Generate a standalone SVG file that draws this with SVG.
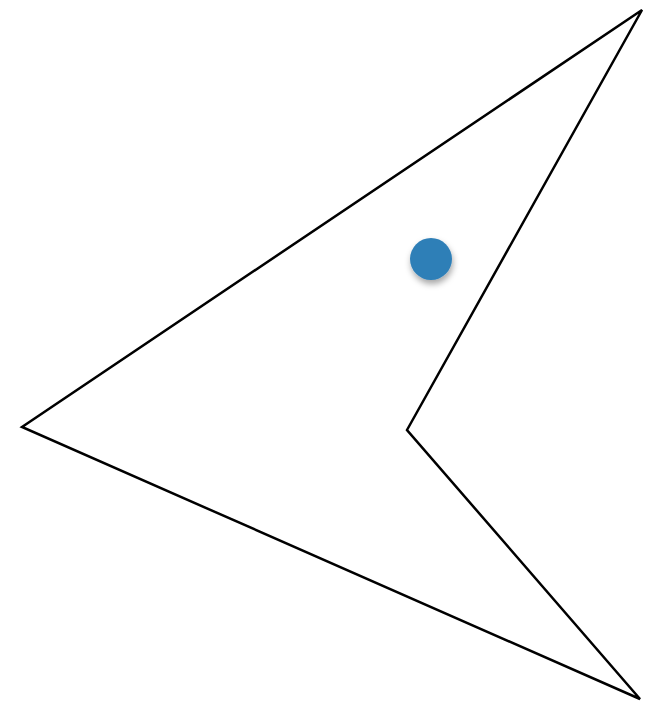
<svg xmlns="http://www.w3.org/2000/svg" width="660" height="701" viewBox="0 0 660 701">
<defs>
<filter id="sh" x="-50%" y="-50%" width="200%" height="200%">
<feDropShadow dx="1" dy="4" stdDeviation="3" flood-color="#000" flood-opacity="0.35"/>
</filter>
</defs>
<rect width="660" height="701" fill="#fff"/>
<g id="shape">
<polygon points="642,10 22,427 640,699 407,430" fill="none" stroke="#000" stroke-width="2.5" stroke-linejoin="miter"/>
</g>
<g id="dot">
<circle cx="431" cy="259" r="21" fill="#2f7fb7" filter="url(#sh)"/>
</g>
</svg>
